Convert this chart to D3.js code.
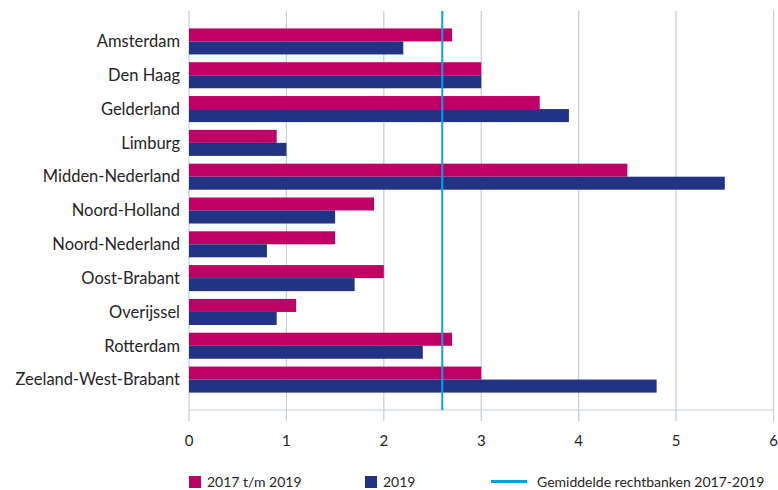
<!DOCTYPE html>
<html>
<head>
<meta charset="utf-8">
<script src="https://cdn.jsdelivr.net/npm/d3@7"></script>
<style>
  html, body { margin: 0; padding: 0; background: #fff; }
  svg text { font-family: Lato, "Noto Sans", sans-serif; fill: #262626; }
</style>
</head>
<body>
<svg id="chart" width="778" height="490"></svg>
<script>
const categories = ["Amsterdam","Den Haag","Gelderland","Limburg","Midden-Nederland","Noord-Holland","Noord-Nederland","Oost-Brabant","Overijssel","Rotterdam","Zeeland-West-Brabant"];
const series2017_2019 = [2.7, 3.0, 3.6, 0.9, 4.5, 1.9, 1.5, 2.0, 1.1, 2.7, 3.0];
const series2019 = [2.2, 3.0, 3.9, 1.0, 5.5, 1.5, 0.8, 1.7, 0.9, 2.4, 4.8];
const averageValue = 2.6;
const xTicks = [0, 1, 2, 3, 4, 5, 6];
const seriesNames = ["2017 t/m 2019", "2019"];
const averageName = "Gemiddelde rechtbanken 2017-2019";

const colors = ["#be0064", "#223383"];
const avgColor = "#0a9fe3";
const gridColor = "#c3cfdb";

const svg = d3.select("#chart");
const pLeft = 189, pRight = 773.5, pTop = 11, pBottom = 410;

const x = d3.scaleLinear().domain([0, 6]).range([pLeft, pRight]);
const y = d3.scaleBand().domain(categories).range([pTop, pBottom]).paddingInner(0.23).paddingOuter(0.515);
const sub = d3.scaleBand().domain([0, 1]).range([0, y.bandwidth()]);

// gridlines
svg.append("g").selectAll("line").data(xTicks).join("line")
  .attr("x1", d => x(d)).attr("x2", d => x(d))
  .attr("y1", pTop).attr("y2", pBottom + 11)
  .attr("stroke", gridColor).attr("stroke-width", 1.2);

// horizontal axis line
svg.append("line").attr("x1", pLeft).attr("x2", pRight).attr("y1", pBottom).attr("y2", pBottom)
  .attr("stroke", gridColor).attr("stroke-width", 1.2);

// bars
const seriesData = [series2017_2019, series2019];
seriesData.forEach((vals, si) => {
  svg.append("g").selectAll("rect").data(vals).join("rect")
    .attr("x", x(0))
    .attr("y", (d, i) => y(categories[i]) + sub(si))
    .attr("width", d => x(d) - x(0))
    .attr("height", sub.bandwidth())
    .attr("fill", colors[si]);
});

// average line
svg.append("line").attr("x1", x(averageValue)).attr("x2", x(averageValue))
  .attr("y1", pTop).attr("y2", pBottom)
  .attr("stroke", avgColor).attr("stroke-width", 2);

// category labels
svg.append("g").selectAll("text").data(categories).join("text")
  .attr("x", 180).attr("y", d => y(d) + y.bandwidth() / 2)
  .attr("dy", "0.35em").attr("text-anchor", "end")
  .style("font-size", "16.5px").text(d => d);

// x tick labels
svg.append("g").selectAll("text").data(xTicks).join("text")
  .attr("x", d => x(d)).attr("y", 446)
  .attr("text-anchor", "middle").style("font-size", "15px").text(d => d);

// legend
const lg = svg.append("g");
const legendItems = [
  { type: "rect", color: colors[0], label: seriesNames[0], x: 189 },
  { type: "rect", color: colors[1], label: seriesNames[1], x: 365 },
  { type: "line", color: avgColor, label: averageName, x: 491 }
];
legendItems.forEach(it => {
  if (it.type === "rect") {
    lg.append("rect").attr("x", it.x).attr("y", 476).attr("width", 12).attr("height", 12).attr("fill", it.color);
    lg.append("text").attr("x", it.x + 18).attr("y", 487).style("font-size", "14px").text(it.label);
  } else {
    lg.append("line").attr("x1", it.x).attr("x2", it.x + 36).attr("y1", 481.5).attr("y2", 481.5)
      .attr("stroke", it.color).attr("stroke-width", 3);
    lg.append("text").attr("x", it.x + 46).attr("y", 487).style("font-size", "14px").text(it.label);
  }
});
</script>
</body>
</html>
